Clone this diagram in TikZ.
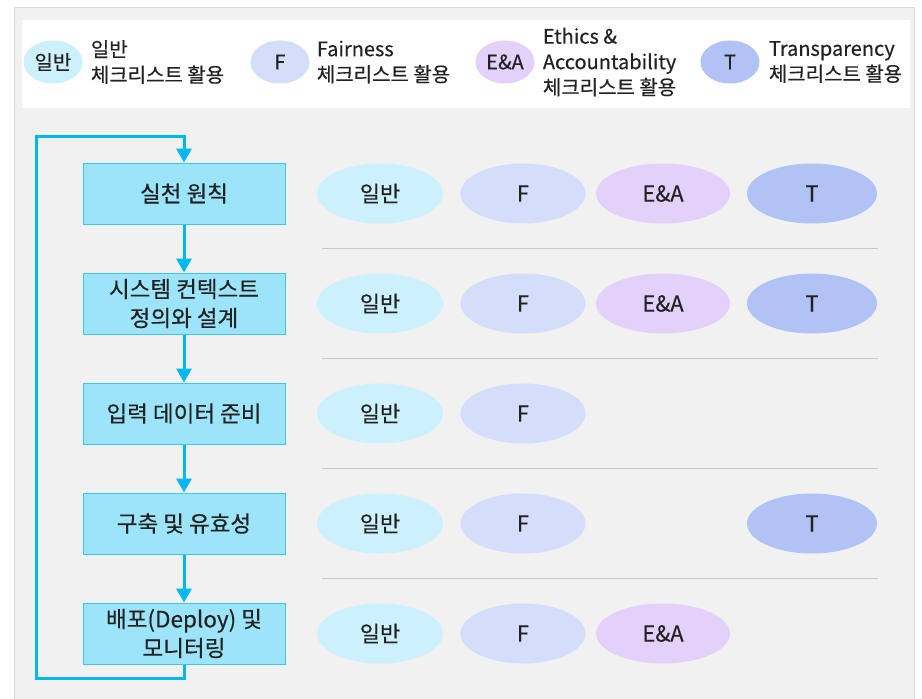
\documentclass[tikz,border=0pt]{standalone}
\usepackage{fontspec}
\setmainfont{Noto Sans CJK KR}[FakeBold=0.4]
\usetikzlibrary{arrows.meta,positioning,shapes.geometric,calc}
\definecolor{panel}{HTML}{F1F1F1}
\definecolor{panelline}{HTML}{DADADA}
\definecolor{stagefill}{HTML}{9BE4FA}
\definecolor{stageline}{HTML}{3CC6F2}
\definecolor{flowline}{HTML}{00B8F1}
\definecolor{genfill}{HTML}{CCF1FC}
\definecolor{fairfill}{HTML}{D4DDF9}
\definecolor{eafill}{HTML}{E3D1FA}
\definecolor{trfill}{HTML}{B0C3F4}
\definecolor{sepgray}{HTML}{C8C8C8}
\definecolor{ink}{HTML}{222222}
\tikzset{
    stage/.style = {draw=stageline, fill=stagefill, line width=1pt, rectangle,
        minimum width=202pt, minimum height=61pt, align=center,
        font=\fontsize{22.5}{29}\selectfont, text=ink},
    tag/.style = {ellipse, inner sep=0pt, minimum height=60pt,
        font=\fontsize{22}{26}\selectfont, text=ink},
    tagG/.style = {tag, fill=genfill, minimum width=126pt},
    tagF/.style = {tag, fill=fairfill, minimum width=125pt},
    tagEA/.style = {tag, fill=eafill, minimum width=134pt},
    tagT/.style = {tag, fill=trfill, minimum width=130pt},
    legtag/.style = {ellipse, inner sep=0pt, minimum width=59pt, minimum height=43pt,
        font=\fontsize{20}{24}\selectfont, text=ink},
    legtext/.style = {anchor=west, align=left, inner sep=0pt,
        font=\fontsize{20}{25.5}\selectfont, text=ink},
    flow/.style = {draw=flowline, line width=3pt, -{Triangle[length=14pt,width=15pt]}},
    sepline/.style = {draw=sepgray, line width=1.2pt}
}

\begin{document}
\begin{tikzpicture}[x=1pt, y=-1pt]
        \useasboundingbox (0,0) rectangle (922,699);
        \fill [panel] (14,7) rectangle (914,699);
        \draw [panelline] (14,699) -- (14,7) -- (914,7) -- (914,699);
        \fill [white] (22,20) rectangle (910,108);
        % legend
        \node [legtag, fill=genfill, name=lgen] at (53,62) {일반};
        \node [legtext, right=8pt of lgen, name=lgentxt] {일반\\체크리스트 활용};
        \node [legtag, fill=fairfill, right of=lgen, node distance=227pt, name=lfair] {F};
        \node [legtext, right=7pt of lfair, name=lfairtxt] {Fairness\\체크리스트 활용};
        \node [legtag, fill=eafill, right of=lfair, node distance=225pt, name=lea] {E\&A};
        \node [legtext, right=8pt of lea, name=leatxt] {Ethics \&\\Accountability\\체크리스트 활용};
        \node [legtag, fill=trfill, right of=lea, node distance=225pt, name=ltr] {T};
        \node [legtext, right=9pt of ltr, name=ltrtxt] {Transparency\\체크리스트 활용};
        % stages
        \node [stage, name=box1] at (184,193.5) {실천 원칙};
        \foreach \a/\txt [evaluate=\a as \prev using int(\a-1)] in {2/{시스템 컨텍스트\\정의와 설계}, 3/{입력 데이터 준비}, 4/{구축 및 유효성}, 5/{배포(Deploy) 및\\모니터링}}{
            \node [stage, below of=box\prev, node distance=110pt] (box\a) {\txt};
            \draw [flow] (box\prev) -- (box\a);
        }
        \coordinate (loopcorner) at (36,136);
        \draw [flow] (box5.south) -- ++(0,14) -| (loopcorner) -| (box1.north);
        % checklists
        \foreach \a in {1,...,5}{
            \node [tagG, right of=box\a, node distance=196pt] (gen\a) {일반};
            \node [tagF, right of=gen\a, node distance=143pt] (fair\a) {F};
        }
        \foreach \a in {1,2,5}
            \node [tagEA, right of=fair\a, node distance=140pt] (ea\a) {E\&A};
        \foreach \a in {1,2,4}
            \node [tagT, right of=fair\a, node distance=289pt] (tr\a) {T};
        \foreach \a [evaluate=\a as \prev using int(\a-1)] in {2,...,5}
            \draw [sepline] ($(gen\prev)!0.5!(gen\a)$) ++(-58,0) -- ++(556,0);
\end{tikzpicture}
\end{document}
